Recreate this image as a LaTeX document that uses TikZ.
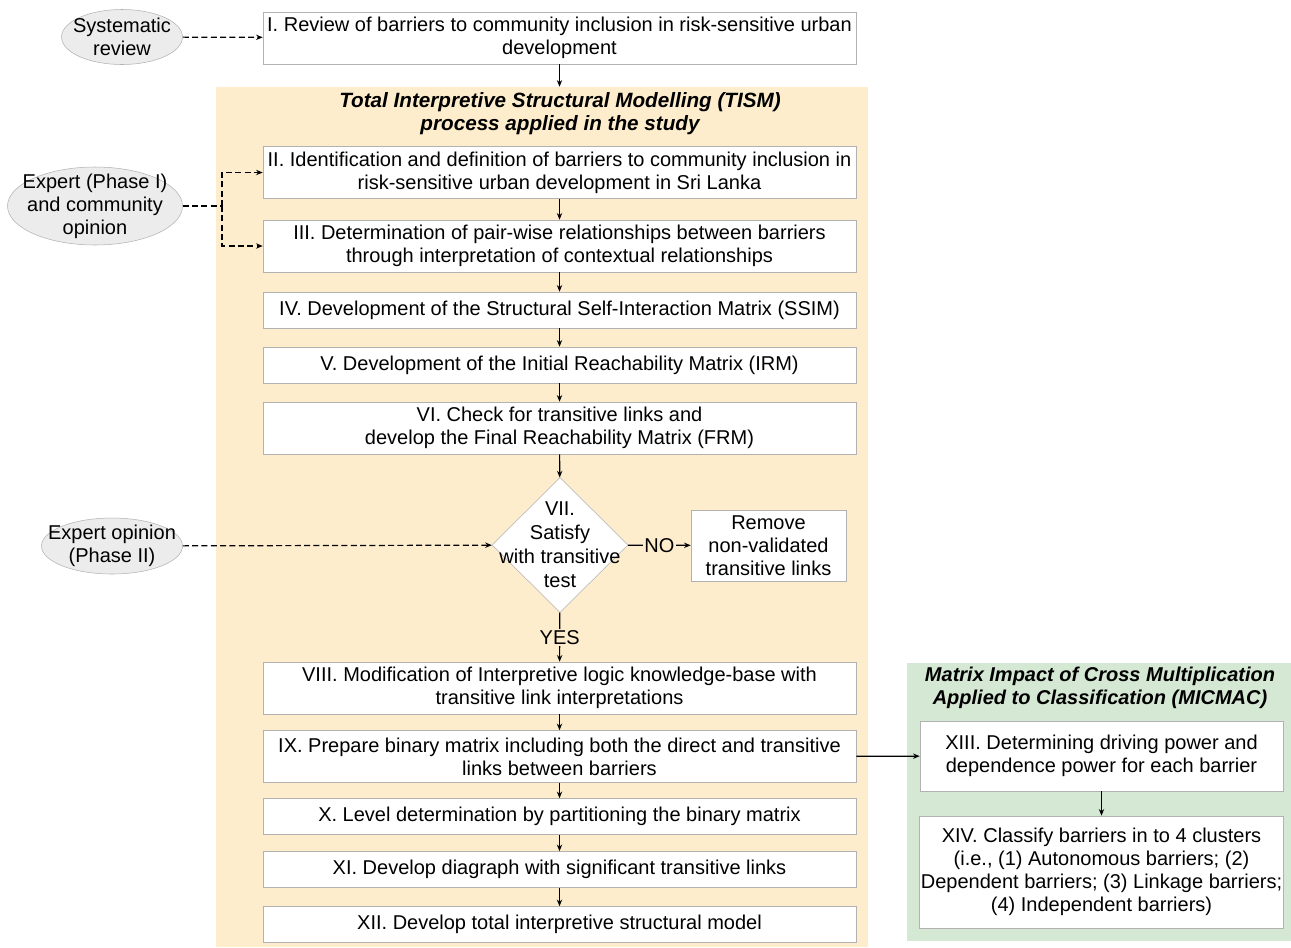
\documentclass[tikz,border=0pt]{standalone}
\usepackage{fontspec}
\setmainfont{Liberation Sans}
\usetikzlibrary{shapes.geometric,arrows.meta}
\definecolor{fondjaune}{RGB}{253,237,204}
\definecolor{fondvert}{RGB}{213,232,212}
\definecolor{bordgris}{RGB}{178,178,178}
\definecolor{ellgris}{RGB}{236,236,236}
\begin{document}
\begin{tikzpicture}[x=0.75pt,y=-0.75pt,font=\fontsize{15}{17.25}\selectfont]
		% définition des styles
		\tikzstyle{etape}=[rectangle,draw=bordgris,fill=white,text=black,align=center,inner sep=2pt,minimum width=444.75pt]
		\tikzstyle{deuxl}=[etape,minimum height=39pt]
		\tikzstyle{unel}=[etape,minimum height=27pt]
		\tikzstyle{source}=[ellipse,draw=bordgris,fill=ellgris,inner sep=0pt]
		\tikzstyle{texte}=[align=center,inner sep=0pt]
		\tikzstyle{titre}=[texte,font=\fontsize{15.5}{17.25}\selectfont\bfseries\itshape]
		\tikzstyle{fleche}=[-{Stealth[length=5pt,width=4pt]},line width=0.9pt]
		\tikzstyle{pointille}=[fleche,dash pattern=on 4.5pt off 2.5pt]
		\useasboundingbox (0,0) rectangle (1291,947);
		% les cadres
		\node[rectangle,fill=fondjaune,minimum width=489pt,minimum height=645pt,inner sep=0pt] (tism) at (542,517) {};
		\node[rectangle,fill=fondvert,minimum width=288pt,minimum height=208.5pt,inner sep=0pt] (micmac) at (1099,802) {};
		\node[titre] (tismtitre) at (560,114) {Total Interpretive Structural Modelling (TISM)\\process applied in the study};
		\node[titre,font=\fontsize{15}{17.25}\selectfont\bfseries\itshape] (micmactitre) at (1100,688) {Matrix Impact of Cross Multiplication\\Applied to Classification (MICMAC)};
		% les sources
		\node[source,minimum width=90.75pt,minimum height=41.25pt] (e0) at (122,37) {};
		\node[texte] (e0t) at (e0) {Systematic\\review};
		\node[source,minimum width=131.25pt,minimum height=58.5pt] (e1) at (95,206) {};
		\node[texte] (e1t) at (e1) {Expert (Phase I)\\and community\\opinion};
		\node[source,minimum width=105.75pt,minimum height=42pt] (e2) at (112,546) {};
		\node[texte] (e2t) at (e2) {Expert opinion\\(Phase II)};
		% les étapes
		\node[deuxl] (b1) at (559.5,38) {I. Review of barriers to community inclusion in risk-sensitive urban\\development};
		\node[deuxl] (b2) at (559.5,172.5) {II. Identification and definition of barriers to community inclusion in\\risk-sensitive urban development in Sri Lanka};
		\node[deuxl] (b3) at (559.5,246) {III. Determination of pair-wise relationships between barriers\\through interpretation of contextual relationships};
		\node[unel] (b4) at (559.5,310) {IV. Development of the Structural Self-Interaction Matrix (SSIM)};
		\node[unel] (b5) at (559.5,365) {V. Development of the Initial Reachability Matrix (IRM)};
		\node[deuxl] (b6) at (559.5,428) {VI. Check for transitive links and\\develop the Final Reachability Matrix (FRM)};
		\node[diamond,draw=bordgris,fill=white,minimum width=102pt,minimum height=101.25pt,inner sep=0pt] (d7) at (560,545) {};
		\node[texte,font=\fontsize{15}{18}\selectfont] (d7t) at (d7) {VII.\\Satisfy\\with transitive\\test};
		\node[rectangle,draw=bordgris,fill=white,align=center,minimum width=116.25pt,minimum height=53.25pt,inner sep=1pt] (rm) at (768.5,545.5) {Remove\\non-validated\\transitive links};
		\node[deuxl] (b8) at (559.5,688) {VIII. Modification of Interpretive logic knowledge-base with\\transitive link interpretations};
		\node[deuxl] (b9) at (559.5,756.5) {IX. Prepare binary matrix including both the direct and transitive\\links between barriers};
		\node[unel] (b10) at (559.5,816.5) {X. Level determination by partitioning the binary matrix};
		\node[unel] (b11) at (559.5,869.5) {XI. Develop diagraph with significant transitive links};
		\node[unel] (b12) at (559.5,924.5) {XII. Develop total interpretive structural model};
		\node[rectangle,draw=bordgris,fill=white,align=center,minimum width=272.25pt,minimum height=52.5pt] (b13) at (1101.5,756) {XIII. Determining driving power and\\dependence power for each barrier};
		\node[rectangle,draw=bordgris,fill=white,align=center,minimum width=272.25pt,minimum height=84pt,inner sep=1pt] (b14) at (1101.5,872) {XIV. Classify barriers in to 4 clusters\\(i.e., (1) Autonomous barriers; (2)\\Dependent barriers; (3) Linkage barriers;\\(4) Independent barriers)};
		\coordinate (e1j) at (222,206);
		% les flèches
		\draw[pointille] (e0) -- (b1);
		\draw[fleche] (b1) -- (tism.north -| b1);
		\draw[pointille,-] (e1) -- (e1j);
		\draw[pointille] (e1j) |- (b2.west);
		\draw[pointille] (e1j) |- (b3.west);
		\draw[fleche] (b2) -- (b3);
		\draw[fleche] (b3) -- (b4);
		\draw[fleche] (b4) -- (b5);
		\draw[fleche] (b5) -- (b6);
		\draw[fleche] (b6) -- (d7);
		\draw[pointille] (e2) -- (d7);
		\draw[fleche] (d7) -- (rm) node[midway,fill=fondjaune,inner sep=1pt]{NO};
		\draw[fleche] (d7) -- (b8) node[midway,fill=fondjaune,inner sep=1pt]{YES};
		\draw[fleche] (b8) -- (b9);
		\draw[fleche] (b9) -- (b10);
		\draw[fleche] (b10) -- (b11);
		\draw[fleche] (b11) -- (b12);
		\draw[fleche] (b9) -- (b13);
		\draw[fleche] (b13) -- (b14);
	\end{tikzpicture}
\end{document}
